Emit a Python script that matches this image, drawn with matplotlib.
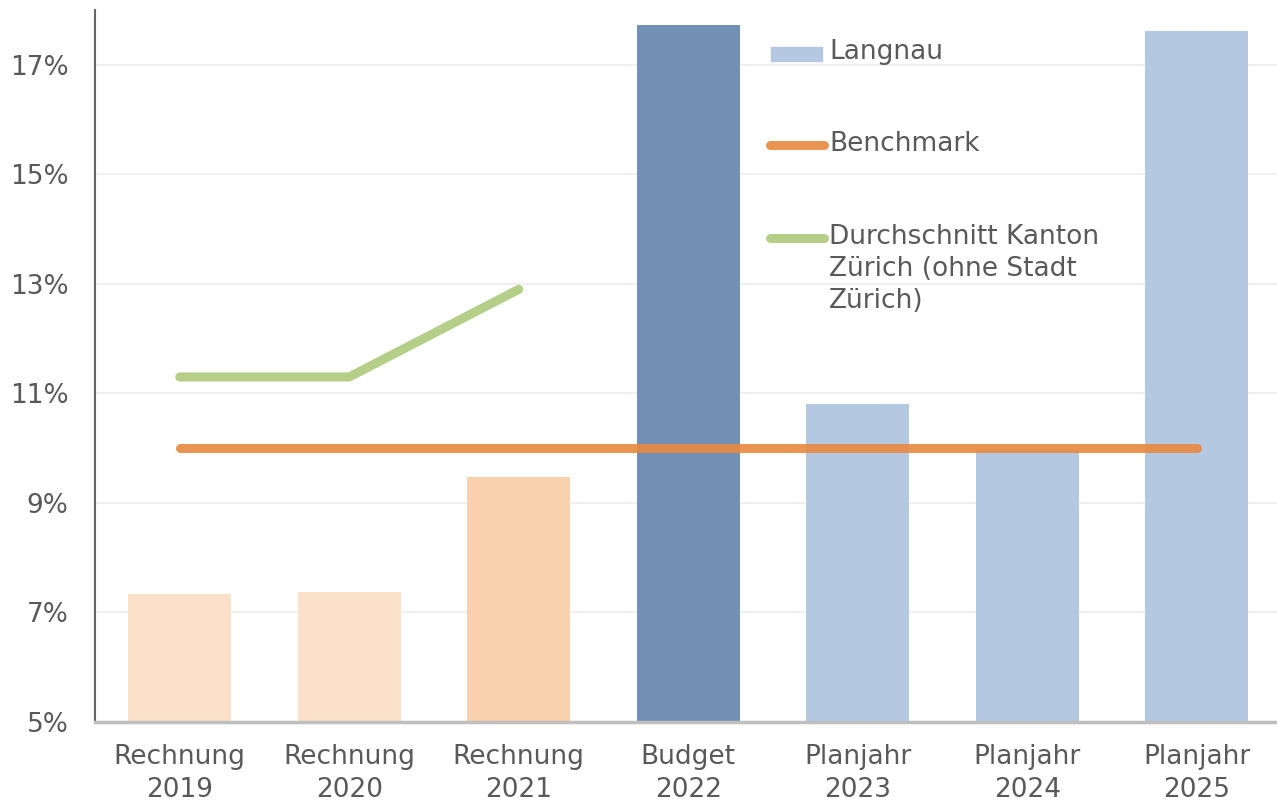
import matplotlib
matplotlib.use("Agg")
import matplotlib.pyplot as plt
from matplotlib.lines import Line2D
from matplotlib.patches import Rectangle
from matplotlib.ticker import FuncFormatter

# ── data ────────────────────────────────────────────────────────────────────
categories = ["Rechnung\n2019", "Rechnung\n2020", "Rechnung\n2021", "Budget\n2022",
              "Planjahr\n2023", "Planjahr\n2024", "Planjahr\n2025"]
langnau    = [7.33, 7.38, 9.47, 17.72, 10.80, 9.97, 17.61]
benchmark  = [10.0, 10.0, 10.0, 10.0, 10.0, 10.0, 10.0]
kanton     = [11.3, 11.3, 12.9]          # only Rechnung years
yticks     = [5, 7, 9, 11, 13, 15, 17]

bar_colors = ["#FBE1CA", "#FBE1CA", "#F9D1AC", "#7290B4", "#B4C8E1", "#B4C8E1", "#B4C8E1"]
ORANGE = "#E8893F"
GREEN  = "#B5CE88"
TXT    = "#595959"
FS     = 19

plt.rcParams["font.family"] = ["DejaVu Sans"]

fig = plt.figure(figsize=(12.77, 8.01), dpi=100)
ax = fig.add_axes([95 / 1277, 1 - 722 / 801, 1186.5 / 1277, 712 / 801])

x = list(range(len(categories)))
ax.bar(x, langnau, width=0.61, color=bar_colors, bottom=0, zorder=2)
ax.plot(x, benchmark, color=ORANGE, lw=6.5, alpha=0.9, solid_capstyle="round", zorder=3)
ax.plot(x[:len(kanton)], kanton, color=GREEN, lw=6.5, solid_capstyle="round",
        solid_joinstyle="round", zorder=3)

ax.set_xlim(-0.5, 6.5)
ax.set_ylim(5, 18)
ax.set_yticks(yticks)
ax.yaxis.set_major_formatter(FuncFormatter(lambda v, _: f"{v:.0f}%"))
ax.set_xticks(x)
ax.set_xticklabels(categories, linespacing=1.35)
ax.tick_params(axis="both", length=0, labelsize=FS, labelcolor=TXT)
ax.tick_params(axis="x", pad=15.5)
ax.tick_params(axis="y", pad=19)
ax.grid(axis="y", color="#F0F0F0", lw=1.5, zorder=0)
ax.set_axisbelow(True)

for s in ("top", "right"):
    ax.spines[s].set_visible(False)
ax.spines["left"].set_color("#666666")
ax.spines["left"].set_linewidth(1.5)
ax.spines["bottom"].set_color("#BFBFBF")
ax.spines["bottom"].set_linewidth(2.5)
ax.spines["bottom"].set_zorder(4)

# ── legend, placed by hand (handle sits on the first text line) ─────────────
def fx(px): return px / 1277
def fy(py): return 1 - py / 801

fig.add_artist(Rectangle((fx(771), fy(61)), fx(51), 14 / 801, color="#B4C8E1",
                         transform=fig.transFigure))
fig.add_artist(Line2D([fx(770), fx(824)], [fy(145), fy(145)], color=ORANGE, lw=6.5,
                      alpha=0.9, solid_capstyle="round", transform=fig.transFigure))
fig.add_artist(Line2D([fx(770), fx(824)], [fy(238), fy(238)], color=GREEN, lw=6.5,
                      solid_capstyle="round", transform=fig.transFigure))
legend_labels = ["Langnau", "Benchmark", "Durchschnitt Kanton\nZürich (ohne Stadt\nZürich)"]
legend_y = [53, 145, 238]
for lab, py in zip(legend_labels, legend_y):
    fig.text(fx(829), fy(py - 14), lab, fontsize=FS, color=TXT, va="top", ha="left",
             linespacing=1.3)

fig.savefig("out.png", dpi=100)
